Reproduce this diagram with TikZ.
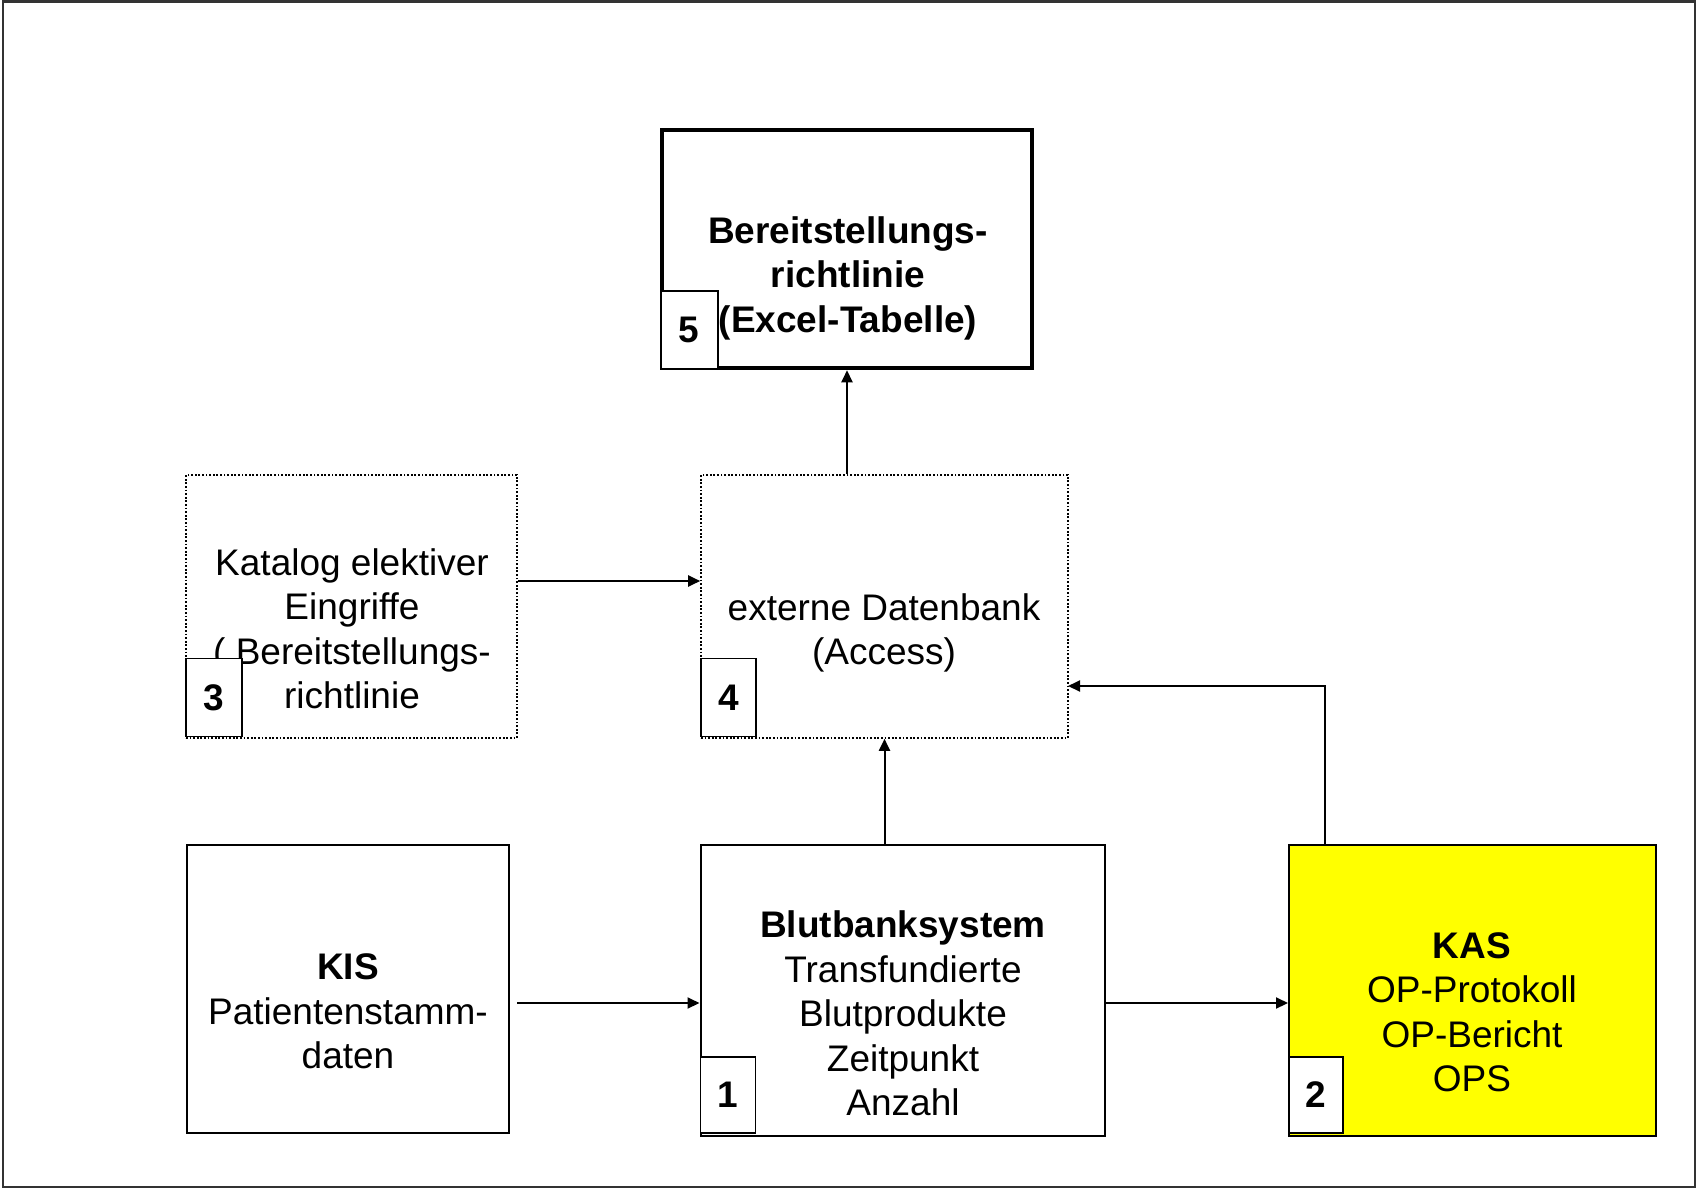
\documentclass[tikz,border=0pt]{standalone}
\usepackage{fontspec}
\setmainfont{Liberation Sans}
\usetikzlibrary{arrows.meta}
\definecolor{kasyellow}{HTML}{FFFF00}
\tikzset{
  txt/.style={inner sep=0pt, align=center, font=\fontsize{37}{44.5}\selectfont},
  boxsolid/.style={draw=black, line width=2pt, rectangle, inner sep=0pt},
  boxdotted/.style={draw=black, line width=1.6pt, dash pattern=on 1.8pt off 1.8pt, rectangle, inner sep=0pt},
  numbox/.style={draw=black, fill=white, line width=1.8pt, rectangle, inner sep=0pt, anchor=south west,
    font=\fontsize{37}{44.5}\selectfont\bfseries},
  arr/.style={line width=2pt, -{Triangle[length=12pt,width=11pt]}},
}
\begin{document}
\begin{tikzpicture}[x=1pt,y=-1pt]
\useasboundingbox (0,0) rectangle (1697,1191);
\draw[line width=2.5pt, draw=black!80] (3,1.5) rectangle (1695,1187);
% main boxes
\node[boxsolid, line width=4.5pt, minimum width=370pt, minimum height=238pt] (bereit) at (847,249) {};
\node[boxdotted, minimum width=331pt, minimum height=263pt] (kat) at (351.5,606.5) {};
\node[boxdotted, minimum width=367pt, minimum height=263pt] (db) at (884.5,606.5) {};
\node[boxsolid, minimum width=322pt, minimum height=288pt] (kis) at (348,989) {};
\node[boxsolid, minimum width=404pt, minimum height=291pt] (blut) at (902.5,990.5) {};
\node[boxsolid, fill=kasyellow, minimum width=367pt, minimum height=291pt] (kas) at (1472.5,990.5) {};
% texts
\node[txt, font=\fontsize{37}{44.5}\selectfont\bfseries] (bereitT) at (848,278) {Bereitstellungs-\\richtlinie\\(Excel-Tabelle)};
\node[txt] (katT) at (352,629) {Katalog elektiver\\Eingriffe\\( Bereitstellungs-\\richtlinie};
\node[txt] (dbT) at (884,633) {externe Datenbank\\(Access)};
\node[txt] (kisT) at (348,1011.5) {\textbf{KIS}\\Patientenstamm-\\daten};
\node[txt] (blutT) at (903,1013.5) {\textbf{Blutbanksystem}\\Transfundierte\\Blutprodukte\\Zeitpunkt\\Anzahl};
\node[txt] (kasT) at (1472,1012) {\textbf{KAS}\\OP-Protokoll\\OP-Bericht\\OPS};
% number boxes
\node[numbox, minimum width=57pt, minimum height=78pt] (n5) at (bereit.south west) {5};
\node[numbox, minimum width=56pt, minimum height=78pt] (n3) at ([yshift=1.5pt]kat.south west) {3};
\node[numbox, minimum width=55pt, minimum height=78pt] (n4) at ([yshift=1.5pt]db.south west) {4};
\node[numbox, minimum width=55pt, minimum height=76pt] (n1) at ([yshift=3.5pt]blut.south west) {1};
\node[numbox, minimum width=54pt, minimum height=76pt] (n2) at ([yshift=3.5pt]kas.south west) {2};
% connectors
\coordinate (rowA) at (0,581);
\coordinate (rowB) at (0,1003);
\coordinate (kisout) at (517,1003);
\coordinate (kasout) at (1325,845);
\coordinate (dbin) at (1068,686);
\draw[arr] (bereit.south |- db.north) -- (bereit.south);
\draw[arr] (kat.east |- rowA) -- (db.west |- rowA);
\draw[arr] (db.south |- blut.north) -- (db.south);
\draw[arr] (kasout) |- (dbin);
\draw[arr] (kisout) -- (blut.west |- rowB);
\draw[arr] (blut.east |- rowB) -- (kas.west |- rowB);
\end{tikzpicture}
\end{document}
